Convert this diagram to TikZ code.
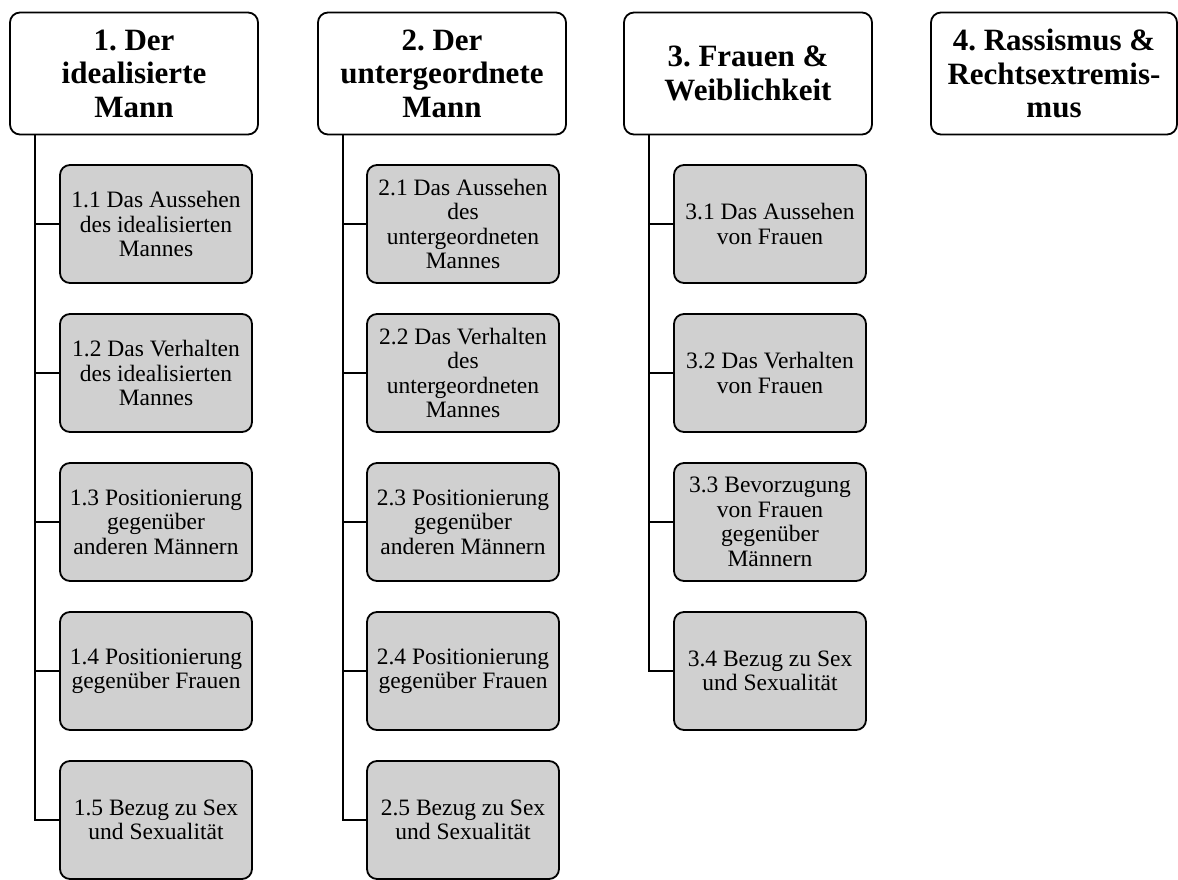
\documentclass[tikz,border=0pt]{standalone}
\usepackage{fontspec}
\setmainfont{Liberation Serif}
\frenchspacing
\begin{document}
\begin{tikzpicture}[x=1pt,y=-1pt,
  headbox/.style={draw=black, fill=white, line width=1.8pt, rounded corners=10pt,
    minimum width=248pt, minimum height=122pt, align=center,
    inner sep=0pt, font=\fontsize{31}{33.5}\selectfont\bfseries},
  subbox/.style={draw=black, fill=subgray, line width=1.8pt, rounded corners=10pt,
    minimum width=192pt, minimum height=118pt, align=center,
    inner sep=0pt, font=\fontsize{23.5}{24.5}\selectfont},
  link/.style={draw=black, line width=2.2pt}]
\definecolor{subgray}{RGB}{208,208,208}
\path[fill=white] (0,0) rectangle (1178,880);
\useasboundingbox (0,0) rectangle (1178,880);

% headings
\node[headbox] (t1) at (134,73.5) {1. Der\\idealisierte\\Mann};
\node[headbox] (t2) at (442,73.5) {2. Der\\untergeordnete\\Mann};
\node[headbox] (t3) at (748,73.5) {3. Frauen \&\\Weiblichkeit};
\node[headbox, minimum width=246pt] (t4) at (1054,73.5) {4. Rassismus \&\\Rechtsextremis-\\mus};

% column 1
\node[subbox] (s11) at (156,224) {1.1 Das Aussehen\\des idealisierten\\Mannes};
\node[subbox] (s12) at (156,373) {1.2 Das Verhalten\\des idealisierten\\Mannes};
\node[subbox] (s13) at (156,522) {1.3 Positionierung\\gegenüber\\anderen Männern};
\node[subbox] (s14) at (156,671) {1.4 Positionierung\\gegenüber Frauen};
\node[subbox] (s15) at (156,820) {1.5 Bezug zu Sex\\und Sexualität};

% column 2
\node[subbox] (s21) at (463,224) {2.1 Das Aussehen\\des\\untergeordneten\\Mannes};
\node[subbox] (s22) at (463,373) {2.2 Das Verhalten\\des\\untergeordneten\\Mannes};
\node[subbox] (s23) at (463,522) {2.3 Positionierung\\gegenüber\\anderen Männern};
\node[subbox] (s24) at (463,671) {2.4 Positionierung\\gegenüber Frauen};
\node[subbox] (s25) at (463,820) {2.5 Bezug zu Sex\\und Sexualität};

% column 3
\node[subbox] (s31) at (770,224) {3.1 Das Aussehen\\von Frauen};
\node[subbox] (s32) at (770,373) {3.2 Das Verhalten\\von Frauen};
\node[subbox] (s33) at (770,522) {3.3 Bevorzugung\\von Frauen\\gegenüber\\Männern};
\node[subbox] (s34) at (770,671) {3.4 Bezug zu Sex\\und Sexualität};

% connectors
\foreach \k in {1,...,5}{
  \draw[link] ([xshift=26pt]t1.south west) |- (s1\k.west);
  \draw[link] ([xshift=26pt]t2.south west) |- (s2\k.west);
}
\foreach \k in {1,...,4}{
  \draw[link] ([xshift=26pt]t3.south west) |- (s3\k.west);
}
\end{tikzpicture}
\end{document}
